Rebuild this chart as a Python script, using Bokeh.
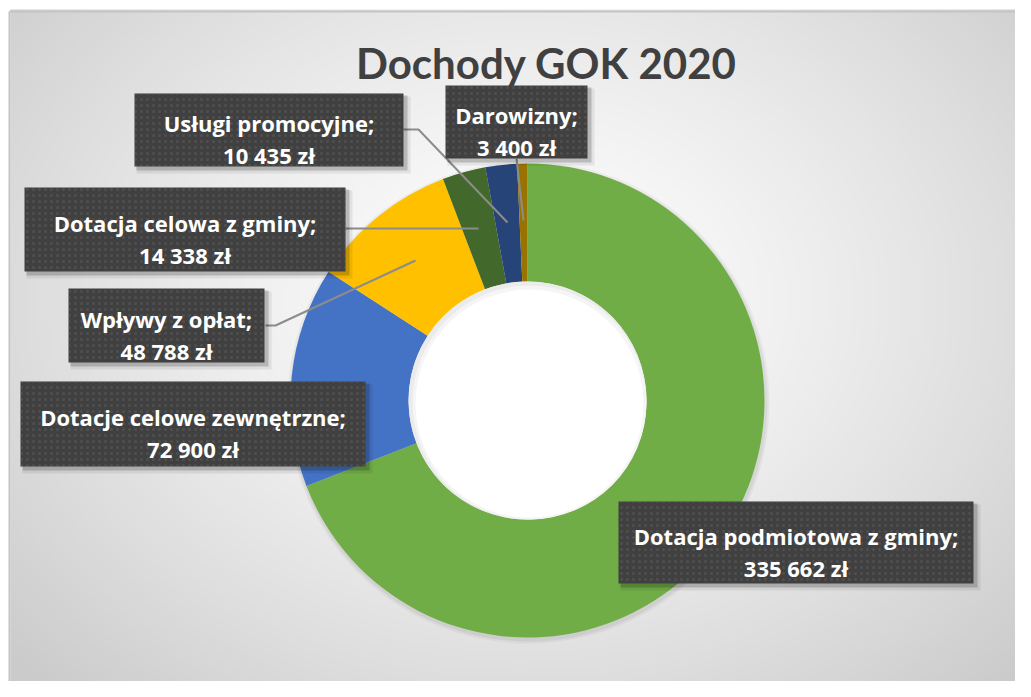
import numpy as np
from bokeh.plotting import figure
from bokeh.models import Range1d, ColumnDataSource
from bokeh.core.properties import value
from bokeh.embed import file_html
from bokeh.resources import INLINE

# ---------------- data ----------------
title = "Dochody GOK 2020"
categories = ["Dotacja podmiotowa z gminy", "Dotacje celowe zewnętrzne", "Wpływy z opłat",
              "Dotacja celowa z gminy", "Usługi promocyjne", "Darowizny"]
values = [335662, 72900, 48788, 14338, 10435, 3400]
colors = ["#70AD47", "#4472C4", "#FFC000", "#43682B", "#264478", "#997300"]

# ---------------- layout (pixel coords: x right, Y down) ----------------
W, H = 1015, 681
CX, CY = 527, 400
R_OUT, R_IN = 237, 119

# label boxes: left, right, top, bottom
boxes = {
    "Dotacja podmiotowa z gminy": (618, 973, 501, 583),
    "Dotacje celowe zewnętrzne": (20, 365, 381, 466),
    "Wpływy z opłat": (68, 264, 288, 362),
    "Dotacja celowa z gminy": (24, 345, 187, 271),
    "Usługi promocyjne": (134, 403, 93, 166),
    "Darowizny": (445, 587, 85, 158),
}
leaders = {
    "Wpływy z opłat": [(265, 325), (275, 325), (415, 260)],
    "Dotacja celowa z gminy": [(345, 228), (478, 228)],
    "Usługi promocyjne": [(403, 129), (418, 129), (507, 222)],
    "Darowizny": [(516, 158), (523, 220)],
}

def fmt(v):
    return f"{v:,}".replace(",", " ") + " zł"

p = figure(width=W, height=H, x_range=Range1d(0, W), y_range=Range1d(-H, 0),
           output_backend="svg", toolbar_location=None, min_border=0)
p.axis.visible = False
p.grid.visible = False
p.outline_line_color = None
p.background_fill_color = "white"
p.border_fill_color = "white"

# ---------------- background radial gradient ----------------
step = 3
x0, x1, y0, y1 = 10, W, 12, H
nx = (x1 - x0) // step + 1
ny = (y1 - y0) // step + 1
xs = x0 + np.arange(nx) * step
ys = y1 - np.arange(ny) * step  # row 0 at bottom
X, Y = np.meshgrid(xs, ys)
gx, gy = 520, 300
d = np.sqrt(((X - gx) / 600.0) ** 2 + ((Y - gy) / 470.0) ** 2)
t = np.clip(d / 1.15, 0, 1) ** 1.3
g = (255 - 52 * t).astype(np.uint32)
img = (255 << 24) | (g << 16) | (g << 8) | g
p.image_rgba(image=[img.astype(np.uint32)], x=x0, y=-y1, dw=nx * step, dh=ny * step)

# frame lines
p.line(x=[9, W], y=[-11, -11], line_color="#c4c4c4", line_width=2)
p.line(x=[9, 9], y=[-11, -H], line_color="#c4c4c4", line_width=2)

# ---------------- donut ----------------
total = float(sum(values))
fr = np.array(values) / total
cum = np.concatenate([[0], np.cumsum(fr)])
start = np.pi / 2 - cum[:-1] * 2 * np.pi
end = np.pi / 2 - cum[1:] * 2 * np.pi
src = ColumnDataSource(dict(cat=categories, val=values, color=colors, start=start, end=end))

for k, a in [(4, 0.04), (2, 0.05)]:
    p.circle(x=[CX + 1], y=[-(CY + 2)], radius=R_OUT + k, fill_color="black", fill_alpha=a, line_color=None)

p.annular_wedge(x=CX, y=-CY, inner_radius=R_IN, outer_radius=R_OUT, start_angle="start",
                end_angle="end", direction="clock", fill_color="color", line_color=None, source=src)
# hole with slight inner shadow
p.circle(x=[CX], y=[-CY], radius=R_IN, fill_color="#ebebeb", line_color=None)
p.circle(x=[CX + 2], y=[-(CY + 2)], radius=R_IN - 2, fill_color="#f5f5f5", line_color=None)
p.circle(x=[CX + 2], y=[-(CY + 3)], radius=R_IN - 5, fill_color="white", line_color=None)

# ---------------- title ----------------
p.text(x=[546], y=[-62], text=[title], text_font=value("Lato"), text_font_style="bold",
       text_font_size="42px", text_color="#404040", text_align="center", text_baseline="alphabetic")

# ---------------- leader lines ----------------
for cat, pts in leaders.items():
    p.line(x=[q[0] for q in pts], y=[-q[1] for q in pts], line_color="#8c8c8c", line_width=2)

# ---------------- label boxes ----------------
for cat, v in zip(categories, values):
    l, r, t_, b = boxes[cat]
    p.quad(left=l + 2, right=r + 7, top=-(t_ + 3), bottom=-(b + 7), fill_color="black",
           fill_alpha=0.07, line_color=None)
    p.quad(left=l + 2, right=r + 4, top=-(t_ + 2), bottom=-(b + 4), fill_color="black",
           fill_alpha=0.18, line_color=None)
    p.quad(left=l, right=r, top=-t_, bottom=-b, fill_color="#404040", line_color=None,
           hatch_pattern="dot", hatch_color="#6a6a6a", hatch_scale=6, hatch_weight=1,
           hatch_alpha=0.35)
    cy = (t_ + b) / 2
    cx = (l + r) / 2
    p.text(x=[cx, cx], y=[-(cy - 7), -(cy + 25)], text=[cat + ";", fmt(v)],
           text_font=value("Open Sans"), text_font_style="bold", text_font_size="22px",
           text_color="white", text_align="center", text_baseline="alphabetic")

open("out.html", "w").write(file_html(p, INLINE))
